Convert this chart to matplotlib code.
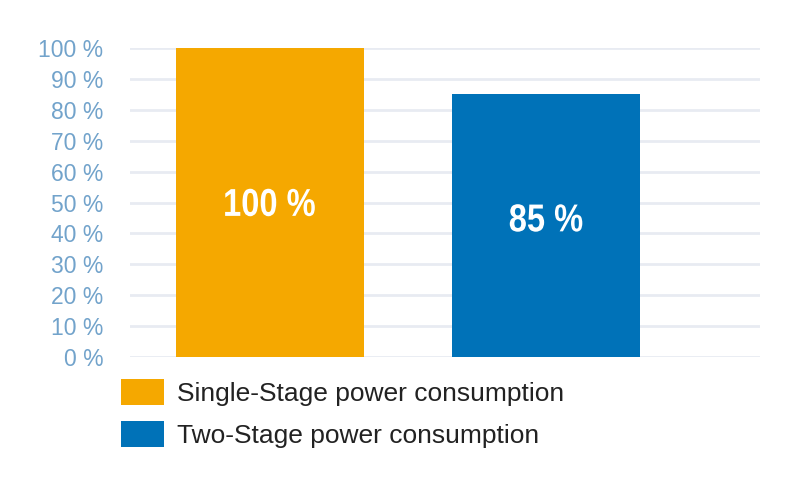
import matplotlib
matplotlib.use('Agg')
import matplotlib.pyplot as plt
from matplotlib.patches import Patch, PathPatch
from matplotlib.textpath import TextPath
from matplotlib.font_manager import FontProperties
from matplotlib.transforms import Affine2D

# data
categories = ['Single-Stage power consumption', 'Two-Stage power consumption']
values = [100, 85]
bar_labels = ['100 %', '85 %']
label_y = [50, 45]
colors = ['#f5a800', '#0072b8']
yticks = list(range(0, 101, 10))
ytick_labels = [f'{t} %' for t in yticks]

plt.rcParams['font.family'] = ['Liberation Sans', 'DejaVu Sans']

fig = plt.figure(figsize=(8, 4.82), dpi=100)
ax = fig.add_axes([130 / 800, 1 - 357 / 482, 630 / 800, 309 / 482])

x = list(range(len(values)))
ax.bar(x, values, width=0.681, color=colors, zorder=2)

ax.set_xlim(-0.507, 1.775)
ax.set_ylim(0, 100)
ax.set_yticks(yticks)
ax.set_yticklabels(ytick_labels, color='#72a3cb', fontsize=16.5)
ax.tick_params(axis='y', length=0, pad=19)
ax.set_xticks([])
ax.yaxis.grid(True, color='#e8ebf2', linewidth=2, zorder=0)
for s in ax.spines.values():
    s.set_visible(False)

# condensed bold labels inside bars (squeeze the glyph outlines horizontally)
fp = FontProperties(family='Liberation Sans', weight='bold')
px = fig.dpi / 72
for xi, lab, ly in zip(x, bar_labels, label_y):
    tp = TextPath((0, 0), lab, size=28, prop=fp)
    ext = tp.get_extents()
    cx, cy = (ext.x0 + ext.x1) / 2, (ext.y0 + ext.y1) / 2
    dx, dy = ax.transData.transform((xi, ly))
    tr = Affine2D().translate(-cx, -cy).scale(0.84 * px, px).translate(dx, dy)
    ax.add_patch(PathPatch(tp, transform=tr, facecolor='white',
                           edgecolor='none', zorder=3))

handles = [Patch(facecolor=c, edgecolor='none') for c in colors]
fig.legend(handles, categories, loc='upper left',
           bbox_to_anchor=(110 / 800, 1 - 368 / 482), frameon=False,
           fontsize=19, handlelength=1.63, handleheight=1.14,
           handletextpad=0.5, labelspacing=0.6, labelcolor='#222222',
           borderaxespad=0)

fig.savefig('out.png', dpi=100, facecolor='white')
